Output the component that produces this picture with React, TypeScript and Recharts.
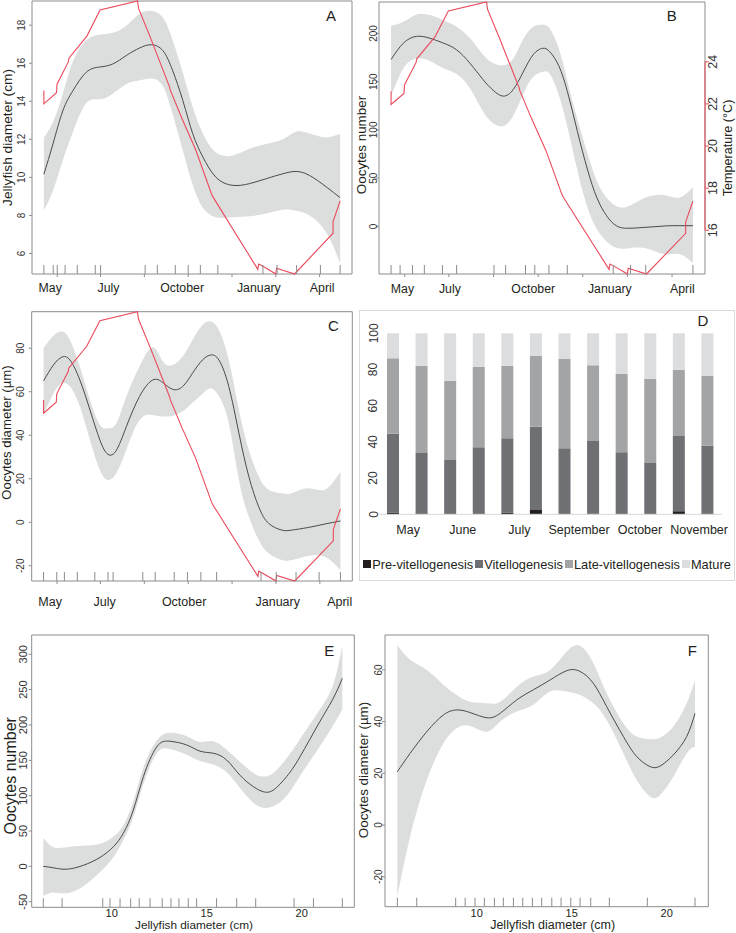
import React from 'react';
import {
  ComposedChart, Area, Line, Scatter, XAxis, YAxis, ReferenceArea, ReferenceLine,
  BarChart, Bar, Legend,
} from 'recharts';

// ---------------- DATA ----------------
// Sea temperature (shared by A, B, C); x in months since first sampling
const tempMonths = [0, 0, 0.5, 0.52, 0.97, 0.99, 1.70, 2.22, 3.70, 3.74, 4.22, 4.97, 4.99, 5.45, 6.0, 6.61, 6.67, 8.45, 8.48, 8.67, 9.16, 9.19, 9.90, 11.42, 11.42, 11.7];
const tempValues = [22.6, 21.97, 22.5, 22.9, 23.97, 24.13, 25.18, 26.41, 26.84, 26.49, 25.07, 22.75, 22.63, 21.29, 19.79, 17.74, 17.58, 14.14, 14.39, 14.27, 13.92, 14.19, 13.92, 15.85, 16.40, 17.38];
const tempTicks = [16, 18, 20, 22, 24];

const monthNames = ['May', 'July', 'October', 'January', 'April'];
const axisTickMonths = [0.53, 2.24, 3.97, 5.7, 7.43, 9.16, 10.89];

// Panel A: jellyfish diameter vs time
const aMonths = [0, 0.36, 0.75, 1.15, 1.67, 2.20, 2.72, 3.25, 3.78, 4.24, 4.70, 5.09, 5.49, 5.88, 6.28, 6.80, 7.46, 8.12, 8.78, 9.44, 9.96, 10.49, 11.15, 11.70];
const aMean = [10.16, 11.76, 13.5, 14.56, 15.52, 15.8, 15.96, 16.4, 16.8, 16.97, 16.66, 15.6, 14.03, 12.29, 11.07, 10.0, 9.58, 9.67, 9.93, 10.19, 10.31, 10.1, 9.5, 8.93];
const aUpper = [12.1, 12.9, 14.4, 16.1, 17.2, 17.5, 17.6, 17.97, 18.6, 18.75, 18.4, 17.2, 15.5, 13.7, 12.3, 11.3, 11.15, 11.5, 11.75, 12.0, 12.4, 12.3, 12.1, 12.3];
const aLower = [8.27, 9.3, 10.9, 12.4, 13.9, 14.1, 14.4, 14.9, 15.1, 15.2, 14.8, 13.3, 11.4, 9.6, 8.4, 7.9, 7.9, 7.95, 8.1, 8.3, 8.25, 8.0, 7.1, 5.48];
const aRug = [0, 0.37, 0.53, 0.84, 1.32, 2.03, 2.24, 4.0, 4.48, 5.19, 5.70, 6.18, 6.87, 8.65, 9.21, 9.98, 10.92, 11.7];
const aMonthTicks = [0.25, 2.55, 5.46, 8.49, 10.99];
const aYTicks = [6, 8, 10, 12, 14, 16, 18];

// Panel B: oocytes number vs time
const bMonths = [0, 0.48, 0.99, 1.51, 2.03, 2.54, 3.06, 3.57, 3.96, 4.35, 4.74, 5.12, 5.51, 5.87, 6.15, 6.54, 6.93, 7.32, 7.70, 8.09, 8.61, 9.12, 9.64, 10.15, 10.67, 11.19, 11.70];
const bMean = [173, 190, 197, 195, 190, 183, 169, 152, 141, 135, 142, 160, 178, 184.6, 181, 164, 130, 88, 51, 23, 3, -2, -1.4, -0.5, 0.5, 0.7, 0.7];
const bUpper = [208, 212, 219.6, 219, 213.7, 207, 195, 178, 169, 167, 174, 194, 207, 209, 205, 181, 140, 102, 68, 40.5, 23, 20, 27, 32, 32, 30, 40.5];
const bLower = [135, 164, 174, 171.5, 164, 158, 143, 119, 107, 104, 115, 137, 155, 160, 158, 133, 92, 47, 13, -7.5, -21, -23, -22, -25, -29, -29, -38];
const bRug = [0, 0.35, 0.83, 1.29, 1.99, 2.54, 3.99, 4.44, 5.21, 5.57, 6.12, 6.83, 8.61, 9.28, 9.87, 11.7];
const bMonthTicks = [0.44, 2.28, 5.51, 8.48, 11.29];
const bYTicks = [0, 50, 100, 150, 200];

// Panel C: oocytes diameter vs time
const cMonths = [0, 0.39, 0.72, 1.04, 1.43, 1.83, 2.22, 2.54, 2.87, 3.26, 3.78, 4.30, 4.70, 5.09, 5.48, 5.87, 6.26, 6.59, 6.91, 7.30, 7.70, 8.09, 8.48, 8.87, 9.39, 9.78, 10.43, 11.09, 11.70];
const cMean = [65, 72.3, 75.9, 74.6, 65.4, 51.6, 37.8, 31.2, 33.1, 43.9, 57.8, 65.4, 64.2, 61.1, 62.4, 68.5, 74.6, 76.9, 74.6, 62.4, 40.9, 21, 7.1, -0.5, -3.6, -3.6, -2.4, -0.8, 0.6];
const cUpper = [80, 85.7, 87.7, 83.8, 71.6, 56.2, 44.7, 43.2, 45.5, 57.8, 71.6, 80.5, 74, 72.3, 76.2, 83.8, 90.7, 92.3, 88.4, 74.6, 51.6, 33.2, 21, 15, 13.3, 13.3, 15.6, 15, 23.3];
const cLower = [49.3, 59.3, 63.9, 62.4, 53.2, 37.8, 24, 19.4, 22.5, 33.2, 47, 49.3, 48.6, 49, 51, 55, 59, 61.6, 58, 45.5, 19.4, 2.5, -8.2, -14.3, -17.4, -17.4, -15.5, -15.9, -22];
const cRug = [0, 0.52, 0.82, 1.33, 2.02, 2.54, 2.74, 3.91, 4.40, 5.15, 5.67, 6.20, 6.82, 8.57, 9.17, 9.95, 10.86, 11.7];
const cMonthTicks = [0.26, 2.41, 5.54, 9.23, 11.67];
const cYTicks = [-20, 0, 20, 40, 60, 80];

// Panel D: oocyte stages (%)
const dStages = ['Pre-vitellogenesis', 'Vitellogenesis', 'Late-vitellogenesis', 'Mature'];
const dPre = [1, 0.5, 0, 0, 1, 2.4, 0, 0.5, 0, 0, 1.7, 0.5];
const dVit = [43.6, 33.4, 30.0, 37.0, 41.0, 46.0, 36.5, 40.0, 34.3, 28.4, 41.6, 37.4];
const dLate = [41.6, 48.2, 43.7, 44.4, 40.0, 39.1, 49.3, 41.8, 43.2, 46.4, 36.6, 38.5];
const dMature = [13.8, 17.9, 26.3, 18.6, 18.0, 12.5, 14.2, 17.7, 22.5, 25.2, 20.1, 23.6];
const dMonths = ['May', 'June', 'July', 'September', 'October', 'November'];
const dMonthTicks = [0.52, 2.43, 4.41, 6.5, 8.63, 10.7];
const dYTicks = [0, 20, 40, 60, 80, 100];

// Panel E: oocytes number vs jellyfish diameter
const eX = [6.40, 6.93, 7.63, 8.51, 9.39, 10.09, 10.61, 11.14, 11.67, 12.37, 13.07, 13.95, 14.65, 15.35, 16.05, 16.75, 17.46, 17.98, 18.51, 19.21, 19.91, 20.96, 21.67, 22.14];
const eMean = [0, -2, -4, 1.5, 12.7, 27.8, 46.7, 79.7, 127, 169, 177, 171.7, 163, 160, 150.5, 129, 112.7, 105.6, 108, 127, 155, 205, 238, 266];
const eUpper = [40, 27, 27, 29, 32, 42, 58, 92, 140, 178, 189, 184, 176, 177, 165, 148, 132, 127, 132, 153, 180, 222, 258, 312];
const eLower = [-42, -37, -38, -28, -8, 13, 37, 70, 116, 160, 166, 158, 149, 144, 133, 111, 90, 83, 85, 100, 128, 170, 200, 222];
const eRug = [6.4, 7.39, 9.53, 9.91, 10.44, 11.0, 11.45, 12.02, 12.66, 13.12, 13.54, 14.03, 14.47, 15.52, 16.58, 17.58, 19.6, 20.62, 22.14];
const eYTicks = [-50, 0, 50, 100, 150, 200, 250, 300];

// Panel F: oocytes diameter vs jellyfish diameter
const fX = [5.82, 6.49, 7.37, 8.25, 8.95, 9.65, 10.53, 11.23, 12.11, 12.98, 13.86, 14.74, 15.44, 16.14, 16.84, 17.72, 18.42, 19.12, 19.65, 20.35, 21.05, 21.49];
const fMean = [20.6, 27.7, 36.1, 42.6, 44.5, 43.5, 41.5, 43.2, 48.4, 52.3, 56.1, 59.7, 59.4, 54.8, 45.8, 34.2, 26.5, 22.6, 22.8, 27.1, 34.2, 43.2];
const fUpper = [69.7, 63.9, 60, 54.2, 50.3, 47.7, 47.1, 47.7, 53.5, 57.4, 60, 67.1, 69.3, 62.6, 51, 39.4, 34.2, 33.2, 33.8, 38.1, 47.1, 56.1];
const fLower = [-27.7, -4.5, 17.4, 31.6, 37.4, 38.3, 36.1, 40, 43.9, 46.5, 51.6, 51.6, 50.3, 47.1, 40.6, 27.7, 17.4, 11, 11.6, 18.7, 27.7, 30.3];
const fRug = [5.82, 6.84, 8.89, 9.39, 9.91, 10.40, 10.93, 11.40, 11.93, 12.42, 12.93, 13.42, 13.95, 14.44, 14.95, 15.44, 16.0, 16.98, 18.98, 21.49];
const fYTicks = [-20, 0, 20, 40, 60];
const sizeTicks = [10, 15, 20];

// ---------------- STYLE ----------------
const FONT = '"Liberation Sans", Arial, Helvetica, sans-serif';
const BAND = '#dcdddd';
const MEAN = '#4a4a4a';
const RED = '#ea4a5c';
const BOX = '#8c8c8c';
const INK = '#231f20';
const TICKTXT = '#333333';
const D_COLORS = ['#231f20', '#6e7073', '#a3a4a6', '#dcdddf'];

const buildRows = (xs: number[], mean: number[], lo: number[], hi: number[]) =>
  xs.map((x, i) => ({ x, mean: mean[i], range: [lo[i], hi[i]] }));

const tempRows = tempMonths.map((x, i) => ({ x, temp: tempValues[i] }));
const tempDomain: [number, number] = [Math.min(...tempValues), Math.max(...tempValues)];

function RotText({ x, y, text, size, fill = INK }: { x: number; y: number; text: string; size: number; fill?: string }) {
  return (
    <text x={x} y={y} dy="0.35em" textAnchor="middle" fontSize={size} fontFamily={FONT} fill={fill}
      transform={`rotate(-90 ${x} ${y})`}>{text}</text>
  );
}

const yTickRenderer = (size: number) => (p: any) => (
  <RotText x={p.x} y={p.y} size={size} fill={TICKTXT} text={String(p.payload.value)} />
);

const xTickRenderer = (ticks: number[], labels: string[] | null, gap: number, size: number) => (p: any) => {
  const idx = ticks.indexOf(p.payload.value);
  const label = labels ? (labels[idx] ?? '') : String(p.payload.value);
  return (
    <text x={p.x} y={p.y + gap} dy="0.35em" textAnchor="middle" fontSize={size} fontFamily={FONT} fill={INK}>{label}</text>
  );
};

const rugUp = (p: any) => <line x1={p.cx} x2={p.cx} y1={p.cy} y2={p.cy - 9} stroke={BOX} strokeWidth={1} />;
const tickDown = (p: any) => <line x1={p.cx} x2={p.cx} y1={p.cy} y2={p.cy + 3} stroke={BOX} strokeWidth={1} />;

type PanelProps = {
  left: number; top: number; width: number; height: number;
  margin: { top: number; right: number; bottom: number; left: number };
  yW: number; xH: number; yGap: number; yFont: number;
  xDomain: [number, number]; yDomain: [number, number]; yTicks: number[];
  xTicks: number[]; xLabels: string[] | null; xGap: number; xFont: number;
  rows: any[]; rug: number[]; axisTicks?: number[];
  withTemp?: boolean; tempAxis?: boolean;
};

function SmoothPanel(cfg: PanelProps) {
  const rugData = cfg.rug.map((x) => ({ x, y: cfg.yDomain[0] }));
  const tickData = (cfg.axisTicks || []).map((x) => ({ x, y: cfg.yDomain[0] }));
  return (
    <div style={{ position: 'absolute', left: cfg.left, top: cfg.top }}>
      <ComposedChart width={cfg.width} height={cfg.height} data={cfg.rows} margin={cfg.margin}>
        <XAxis dataKey="x" type="number" domain={cfg.xDomain} ticks={cfg.xTicks} interval={0}
          height={cfg.xH} tickSize={0} tickMargin={0} axisLine={false} tickLine={false}
          tick={xTickRenderer(cfg.xTicks, cfg.xLabels, cfg.xGap, cfg.xFont)} />
        <YAxis yAxisId="v" type="number" domain={cfg.yDomain} ticks={cfg.yTicks} interval={0}
          width={cfg.yW} tickSize={3} tickMargin={cfg.yGap - 3} axisLine={false}
          tickLine={{ stroke: BOX }} tick={yTickRenderer(cfg.yFont)} />
        {cfg.withTemp && (
          <YAxis yAxisId="t" orientation="right" type="number" domain={tempDomain}
            ticks={tempTicks} interval={0} hide={!cfg.tempAxis} width={cfg.tempAxis ? 31 : 0}
            tickSize={4} tickMargin={4} axisLine={false} tickLine={{ stroke: RED }}
            tick={yTickRenderer(12.5)} />
        )}
        <Area yAxisId="v" dataKey="range" type="natural" stroke="none" fill={BAND} fillOpacity={1}
          isAnimationActive={false} activeDot={false} />
        <Line yAxisId="v" dataKey="mean" type="natural" stroke={MEAN} strokeWidth={1} dot={false}
          activeDot={false} isAnimationActive={false} />
        {cfg.withTemp && (
          <Line yAxisId="t" data={tempRows} dataKey="temp" type="linear" stroke={RED} strokeWidth={1.1}
            dot={false} activeDot={false} isAnimationActive={false} />
        )}
        <Scatter yAxisId="v" data={rugData} dataKey="y" shape={rugUp} isAnimationActive={false} />
        {tickData.length > 0 && (
          <Scatter yAxisId="v" data={tickData} dataKey="y" shape={tickDown} isAnimationActive={false} />
        )}
        <ReferenceArea yAxisId="v" x1={cfg.xDomain[0]} x2={cfg.xDomain[1]} y1={cfg.yDomain[0]} y2={cfg.yDomain[1]}
          fill="none" fillOpacity={0} stroke={BOX} strokeWidth={1} ifOverflow="visible" />
        {cfg.tempAxis && (
          <ReferenceLine yAxisId="t" segment={[{ x: cfg.xDomain[1], y: tempTicks[0] }, { x: cfg.xDomain[1], y: tempTicks[tempTicks.length - 1] }]}
            stroke={RED} strokeWidth={1} ifOverflow="visible" />
        )}
      </ComposedChart>
    </div>
  );
}

const dRows = dPre.map((_, i) => ({ i, pre: dPre[i], vit: dVit[i], late: dLate[i], mature: dMature[i] }));

function StageLegend() {
  return (
    <div style={{ display: 'flex', justifyContent: 'center', alignItems: 'center', height: 16, width: 376,
      fontFamily: FONT, fontSize: 12.8, color: INK, whiteSpace: 'nowrap' }}>
      {dStages.map((name, k) => (
        <span key={name} style={{ display: 'inline-flex', alignItems: 'center', marginRight: k < dStages.length - 1 ? 2 : 0 }}>
          <span style={{ display: 'inline-block', width: 8, height: 8, background: D_COLORS[k], marginRight: 1 }} />
          {name}
        </span>
      ))}
    </div>
  );
}

function StagePanel() {
  return (
    <div style={{ position: 'absolute', left: 359, top: 310 }}>
      <BarChart width={376} height={271} data={dRows} margin={{ top: 23.3, right: 13, bottom: 8.7, left: 0 }} barSize={12}>
        <XAxis dataKey="i" type="number" domain={[-0.5, 11.5]} ticks={dMonthTicks} interval={0} height={42}
          tickSize={0} tickMargin={0} tickLine={false} axisLine={{ stroke: '#d6d6d6' }}
          tick={xTickRenderer(dMonthTicks, dMonths, 15.7, 12.5)} />
        <YAxis type="number" domain={[0, 100]} ticks={dYTicks} interval={0} width={20}
          axisLine={false} tickLine={false} tickSize={0} tickMargin={5.7} tick={yTickRenderer(12)} />
        <Bar dataKey="pre" name={dStages[0]} stackId="s" fill={D_COLORS[0]} isAnimationActive={false} />
        <Bar dataKey="vit" name={dStages[1]} stackId="s" fill={D_COLORS[1]} isAnimationActive={false} />
        <Bar dataKey="late" name={dStages[2]} stackId="s" fill={D_COLORS[2]} isAnimationActive={false} />
        <Bar dataKey="mature" name={dStages[3]} stackId="s" fill={D_COLORS[3]} isAnimationActive={false} />
        <Legend verticalAlign="bottom" height={16} wrapperStyle={{ left: 0, width: 376 }} content={() => <StageLegend />} />
      </BarChart>
    </div>
  );
}

function VTitle({ x, y, size, children }: { x: number; y: number; size: number; children: string }) {
  return <RotText x={x} y={y} size={size} text={children} fill={INK} />;
}

function HText({ x, y, size, children }: { x: number; y: number; size: number; children: string }) {
  return (
    <text x={x} y={y} dy="0.35em" textAnchor="middle" fontSize={size} fontFamily={FONT} fill={INK}>{children}</text>
  );
}

export default function App() {
  const timeDomain: [number, number] = [-0.468, 12.168];
  return (
    <div style={{ position: 'absolute', left: 0, top: 0, width: 736, height: 933, background: '#ffffff', overflow: 'hidden' }}>
      <SmoothPanel left={0} top={0} width={365} height={300}
        margin={{ top: 1, right: 13, bottom: 0, left: 0 }} yW={32} xH={26} yGap={10.3} yFont={10}
        xDomain={timeDomain} yDomain={[4.92, 19.27]} yTicks={aYTicks}
        xTicks={aMonthTicks} xLabels={monthNames} xGap={14} xFont={12.3}
        rows={buildRows(aMonths, aMean, aLower, aUpper)} rug={aRug} axisTicks={axisTickMonths} withTemp />
      <SmoothPanel left={345} top={0} width={391} height={300}
        margin={{ top: 2, right: 0, bottom: 0, left: 0 }} yW={34} xH={26} yGap={5.5} yFont={10}
        xDomain={timeDomain} yDomain={[-49.4, 232.6]} yTicks={bYTicks}
        xTicks={bMonthTicks} xLabels={monthNames} xGap={14.3} xFont={12.3}
        rows={buildRows(bMonths, bMean, bLower, bUpper)} rug={bRug} axisTicks={axisTickMonths} withTemp tempAxis />
      <SmoothPanel left={0} top={300} width={365} height={310}
        margin={{ top: 11.7, right: 12.7, bottom: 0, left: 0 }} yW={31.7} xH={29} yGap={10.7} yFont={10}
        xDomain={timeDomain} yDomain={[-27, 96.8]} yTicks={cYTicks}
        xTicks={cMonthTicks} xLabels={monthNames} xGap={20.7} xFont={12.5}
        rows={buildRows(cMonths, cMean, cLower, cUpper)} rug={cRug} axisTicks={axisTickMonths} withTemp />
      <StagePanel />
      <SmoothPanel left={0} top={620} width={365} height={313}
        margin={{ top: 15, right: 10.7, bottom: 0, left: 0 }} yW={31.7} xH={25.7} yGap={9} yFont={11}
        xDomain={[5.79, 22.77]} yDomain={[-57.9, 327.3]} yTicks={eYTicks}
        xTicks={sizeTicks} xLabels={null} xGap={6.3} xFont={11}
        rows={buildRows(eX, eMean, eLower, eUpper)} rug={eRug} />
      <SmoothPanel left={360} top={620} width={376} height={313}
        margin={{ top: 15, right: 27.7, bottom: 0, left: 0 }} yW={25} xH={26.3} yGap={6.7} yFont={10}
        xDomain={[5.17, 22.19]} yDomain={[-31.6, 73.5]} yTicks={fYTicks}
        xTicks={sizeTicks} xLabels={null} xGap={6.7} xFont={11}
        rows={buildRows(fX, fMean, fLower, fUpper)} rug={fRug} />
      <svg width={736} height={933} style={{ position: 'absolute', left: 0, top: 0, pointerEvents: 'none' }}>
        <rect x={359.5} y={310.5} width={375} height={270} fill="none" stroke="#dadada" strokeWidth={1} />
        <VTitle x={7.3} y={137.5} size={13.7}>Jellyfish diameter (cm)</VTitle>
        <VTitle x={361.7} y={145} size={13.4}>Oocytes number</VTitle>
        <VTitle x={728} y={148} size={12.6}>Temperature (°C)</VTitle>
        <VTitle x={6.7} y={432.5} size={13.2}>Oocytes diameter (µm)</VTitle>
        <VTitle x={10} y={775.8} size={16}>Oocytes number</VTitle>
        <VTitle x={363.5} y={770} size={13.4}>Oocytes diameter (µm)</VTitle>
        <HText x={194} y={925.3} size={11.8}>Jellyfish diameter (cm)</HText>
        <HText x={552.7} y={925} size={12.5}>Jellyfish diameter (cm)</HText>
        <HText x={331} y={16} size={15}>A</HText>
        <HText x={671.7} y={15.7} size={15}>B</HText>
        <HText x={333.3} y={326} size={15}>C</HText>
        <HText x={703} y={320.7} size={15}>D</HText>
        <HText x={329.3} y={650.7} size={15}>E</HText>
        <HText x={692.3} y={650.7} size={15}>F</HText>
      </svg>
    </div>
  );
}
